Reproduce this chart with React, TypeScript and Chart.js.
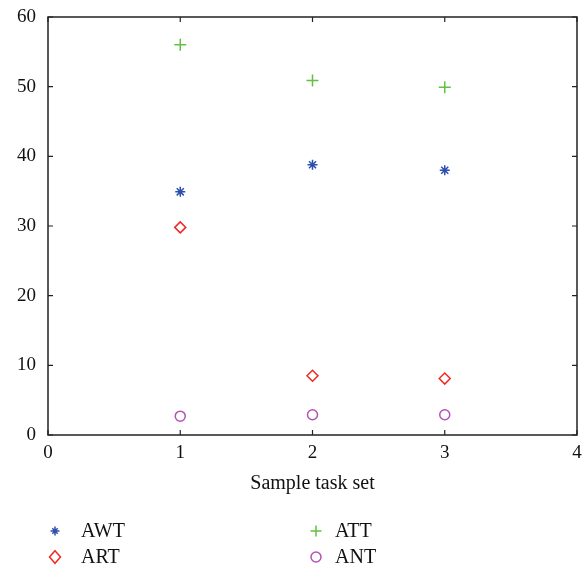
import React, { useEffect, useRef } from "react";
import { Chart, registerables } from "chart.js";

Chart.register(...registerables);

const taskSets = [1, 2, 3];
const awt = [34.9, 38.8, 38.0];
const att = [56.0, 50.9, 49.9];
const art = [29.8, 8.5, 8.1];
const ant = [2.7, 2.9, 2.9];

const xTicks = [0, 1, 2, 3, 4];
const yTicks = [0, 10, 20, 30, 40, 50, 60];

const FONT = "'Liberation Serif', 'DejaVu Serif', serif";

const seriesStyles = [
  { label: "AWT", data: awt, color: "#2b4fae", style: "star", radius: 5 },
  { label: "ART", data: art, color: "#ee2a24", style: "rectRot", radius: 5.5 },
  { label: "ATT", data: att, color: "#62c043", style: "cross", radius: 6 },
  { label: "ANT", data: ant, color: "#b552b3", style: "circle", radius: 5 },
];

function drawMarker(ctx: CanvasRenderingContext2D, style: string, x: number, y: number, r: number, color: string) {
  ctx.save();
  ctx.strokeStyle = color;
  ctx.lineWidth = 1.5;
  ctx.beginPath();
  if (style === "star") {
    ctx.moveTo(x - r, y); ctx.lineTo(x + r, y);
    ctx.moveTo(x, y - r); ctx.lineTo(x, y + r);
    const d = r * 0.6;
    ctx.moveTo(x - d, y - d); ctx.lineTo(x + d, y + d);
    ctx.moveTo(x - d, y + d); ctx.lineTo(x + d, y - d);
  } else if (style === "cross") {
    ctx.moveTo(x - r, y); ctx.lineTo(x + r, y);
    ctx.moveTo(x, y - r); ctx.lineTo(x, y + r);
  } else if (style === "rectRot") {
    ctx.moveTo(x, y - r * 1.15); ctx.lineTo(x + r, y);
    ctx.lineTo(x, y + r * 1.15); ctx.lineTo(x - r, y);
    ctx.closePath();
  } else {
    ctx.arc(x, y, r, 0, Math.PI * 2);
  }
  ctx.stroke();
  ctx.restore();
}

const framePlugin = {
  id: "frame",
  afterDatasetsDraw(chart: any) {
    const { ctx, chartArea: a, scales } = chart;
    ctx.save();
    ctx.strokeStyle = "#222";
    ctx.lineWidth = 1.5;
    ctx.strokeRect(a.left, a.top, a.right - a.left, a.bottom - a.top);
    ctx.lineWidth = 1.2;
    ctx.beginPath();
    const tl = 5;
    xTicks.forEach((v) => {
      const px = scales.x.getPixelForValue(v);
      ctx.moveTo(px, a.bottom); ctx.lineTo(px, a.bottom - tl);
      ctx.moveTo(px, a.top); ctx.lineTo(px, a.top + tl);
    });
    yTicks.forEach((v) => {
      const py = scales.y.getPixelForValue(v);
      ctx.moveTo(a.left, py); ctx.lineTo(a.left + tl, py);
      ctx.moveTo(a.right, py); ctx.lineTo(a.right - tl, py);
    });
    ctx.stroke();

    // axis title
    ctx.fillStyle = "#111";
    ctx.font = `20px ${FONT}`;
    ctx.textAlign = "center";
    ctx.textBaseline = "middle";
    ctx.fillText("Sample task set", (a.left + a.right) / 2, 484);

    // legend, two columns
    const cols = [
      { marker: 55, text: 81 },
      { marker: 316, text: 335 },
    ];
    const rows = [531, 557];
    seriesStyles.forEach((s, i) => {
      const c = cols[Math.floor(i / 2)];
      const cy = rows[i % 2];
      const r = s.style === "star" ? 4.5 : s.style === "cross" ? 5.5 : s.style === "rectRot" ? 5.5 : 5;
      drawMarker(ctx, s.style, c.marker, cy, r, s.color);
      ctx.fillStyle = "#111";
      ctx.textAlign = "left";
      ctx.fillText(s.label, c.text, cy + 1);
    });
    ctx.restore();
  },
};

export default function App() {
  const ref = useRef<HTMLCanvasElement | null>(null);

  useEffect(() => {
    if (!ref.current) return;
    const chart = new Chart(ref.current, {
      type: "scatter",
      data: {
        datasets: seriesStyles.map((s) => ({
          label: s.label,
          data: taskSets.map((t, i) => ({ x: t, y: s.data[i] })),
          borderColor: s.color,
          backgroundColor: "rgba(0,0,0,0)",
          pointStyle: s.style as any,
          pointRadius: s.radius,
          pointBorderWidth: 1.5,
          showLine: false,
        })),
      },
      plugins: [framePlugin],
      options: {
        responsive: false,
        animation: false,
        events: [],
        layout: { padding: { top: 17, right: 11, left: 0, bottom: 0 } },
        plugins: { legend: { display: false }, tooltip: { enabled: false } },
        scales: {
          x: {
            type: "linear",
            min: 0,
            max: 4,
            afterBuildTicks: (s: any) => { s.ticks = xTicks.map((v) => ({ value: v })); },
            afterFit: (s: any) => {
              s.height = 138;
              s.paddingLeft = 0;
              s.paddingRight = 0;
            },
            grid: { display: false, drawTicks: false },
            border: { display: false },
            ticks: { padding: 7, color: "#111", font: { family: FONT, size: 19 } },
          },
          y: {
            type: "linear",
            min: 0,
            max: 60,
            afterBuildTicks: (s: any) => { s.ticks = yTicks.map((v) => ({ value: v })); },
            afterFit: (s: any) => {
              s.width = 48;
              s.paddingTop = 0;
              s.paddingBottom = 0;
            },
            grid: { display: false, drawTicks: false },
            border: { display: false },
            ticks: { padding: 12, color: "#111", font: { family: FONT, size: 19 } },
          },
        },
      },
    });
    return () => chart.destroy();
  }, []);

  return (
    <div style={{ position: "absolute", left: 0, top: 0, width: 588, height: 573, background: "#fff" }}>
      <canvas ref={ref} width={588} height={573} style={{ display: "block" }} />
    </div>
  );
}
